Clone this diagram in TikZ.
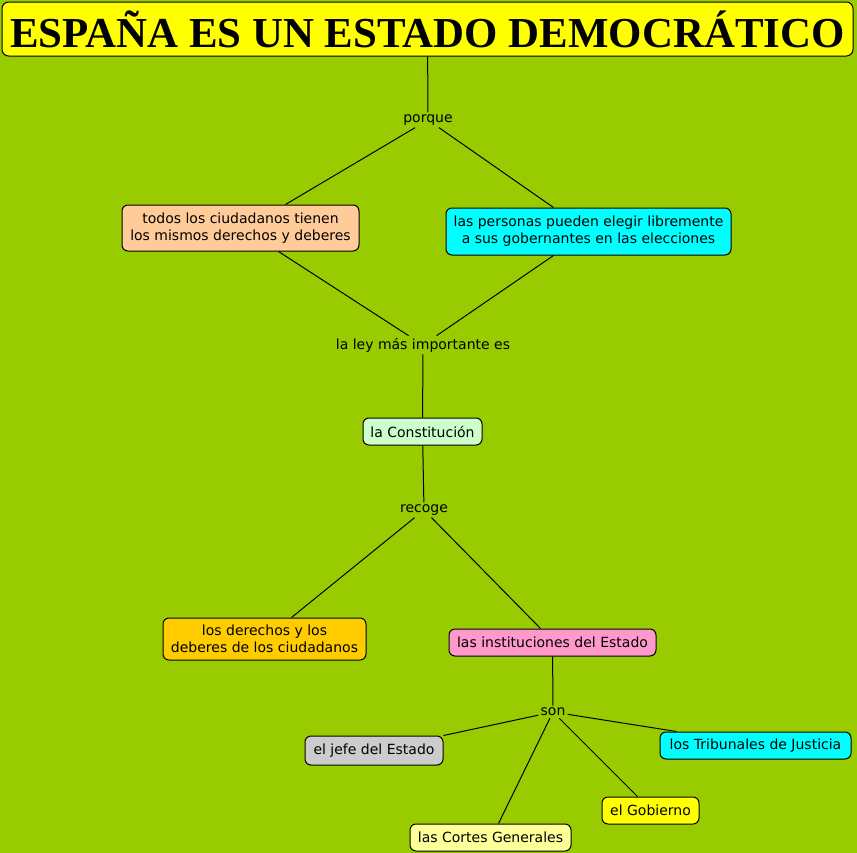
\documentclass[tikz,border=0pt]{standalone}
\usepackage{fontspec}
\setmainfont{DejaVu Sans}
\newfontfamily\titlefont{Liberation Serif}
\usetikzlibrary{calc}
\definecolor{bgc}{HTML}{99CC00}
\definecolor{peach}{HTML}{FFCC99}
\definecolor{cyanc}{HTML}{00FFFF}
\definecolor{mintc}{HTML}{CCFFCC}
\definecolor{orangec}{HTML}{FFCC00}
\definecolor{pinkc}{HTML}{FF99CC}
\definecolor{grayc}{HTML}{CCCCCC}
\definecolor{yellowc}{HTML}{FFFF00}
\definecolor{lyellowc}{HTML}{FFFF99}
\tikzset{
  concept/.style={draw=black, line width=0.75pt, rounded corners=4.5pt, align=center,
    font=\fontsize{10.5pt}{12.75pt}\selectfont, inner sep=0pt},
  linkw/.style={font=\fontsize{10.5pt}{12.75pt}\selectfont, inner sep=1.5pt, text=black},
  conn/.style={draw=black, line width=0.75pt}
}
\begin{document}
\begin{tikzpicture}[x=0.75pt,y=-0.75pt]
\fill[bgc] (0,0) rectangle (857,853);
\useasboundingbox (0,0) rectangle (857,853);

\node[concept, fill=yellowc, minimum width={851*0.75pt}, minimum height={54*0.75pt}, rounded corners=5pt] (title) at (427.5,29)
  {\raisebox{-1pt}{\resizebox{626pt}{27.5pt}{\titlefont\bfseries ESPAÑA ES UN ESTADO DEMOCRÁTICO}}};

\node[linkw] (porque) at (428,120) {porque};
\node[concept, fill=peach, minimum width={237*0.75pt}, minimum height={46*0.75pt}] (todos) at (240.5,228) {\raisebox{-1pt}{\parbox{172pt}{\centering todos los ciudadanos tienen\\los mismos derechos y deberes}}};
\node[concept, fill=cyanc, minimum width={285*0.75pt}, minimum height={47*0.75pt}] (personas) at (588.5,231.5) {\raisebox{-1pt}{\parbox{210pt}{\centering las personas pueden elegir libremente\\a sus gobernantes en las elecciones}}};
\node[linkw] (ley) at (423,345) {la ley más importante es};
\node[concept, fill=mintc, minimum width={119*0.75pt}, minimum height={27*0.75pt}] (const) at (422.5,431.5) {la Constitución};
\node[linkw] (recoge) at (424,510) {recoge};
\node[concept, fill=orangec, minimum width={203*0.75pt}, minimum height={42*0.75pt}] (derechos) at (264.5,639) {\raisebox{-1pt}{\parbox{150pt}{\centering los derechos y los\\deberes de los ciudadanos}}};
\node[concept, fill=pinkc, minimum width={207*0.75pt}, minimum height={27*0.75pt}] (inst) at (552.5,642.5) {las instituciones del Estado};
\node[linkw] (son) at (553,712) {son};
\node[concept, fill=grayc, minimum width={138*0.75pt}, minimum height={29*0.75pt}] (jefe) at (374,750.5) {el jefe del Estado};
\node[concept, fill=cyanc, minimum width={191*0.75pt}, minimum height={27*0.75pt}] (trib) at (755.5,745.5) {los Tribunales de Justicia};
\node[concept, fill=yellowc, minimum width={97*0.75pt}, minimum height={27*0.75pt}] (gob) at (650.5,810.5) {el Gobierno};
\node[concept, fill=lyellowc, minimum width={161*0.75pt}, minimum height={27*0.75pt}] (cortes) at (490.5,837.5) {las Cortes Generales};

\draw[conn] (title) -- (porque);
\draw[conn] (porque) -- ($(todos.north)+(45,0)$);
\draw[conn] (porque) -- ($(personas.north)+(-35,0)$);
\draw[conn] ($(todos.south)+(38,0)$) -- (ley);
\draw[conn] ($(personas.south)+(-35,0)$) -- (ley);
\draw[conn] (ley) -- (const);
\draw[conn] (const) -- (recoge);
\draw[conn] (recoge) -- ($(derechos.north)+(27,0)$);
\draw[conn] (recoge) -- ($(inst.north)+(-12,0)$);
\draw[conn] (inst) -- (son);
\draw[conn] (son) -- (jefe.north east);
\draw[conn] (son) -- ($(trib.north)+(-79,0)$);
\draw[conn] (son) -- ($(gob.north)+(-13,0)$);
\draw[conn] (son) -- ($(cortes.north)+(8,0)$);
\end{tikzpicture}
\end{document}
